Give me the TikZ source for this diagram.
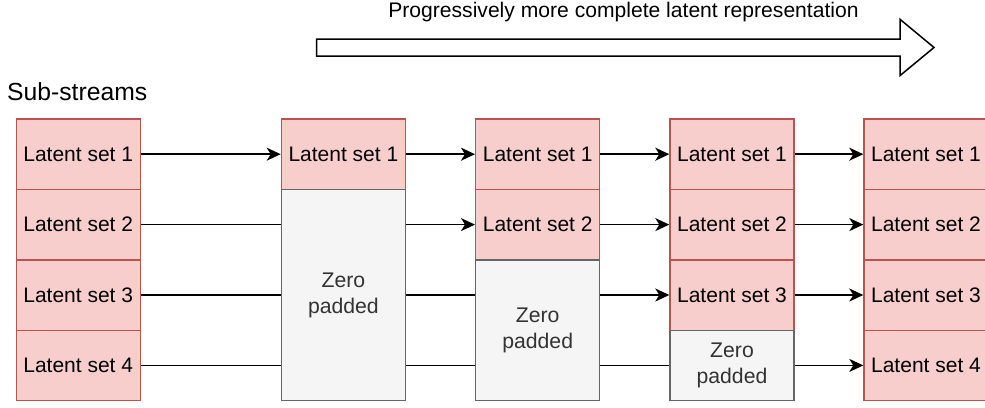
\documentclass[tikz,border=0pt]{standalone}
\usepackage{fontspec}
\setmainfont{Liberation Sans}
\usetikzlibrary{arrows.meta,backgrounds}
\definecolor{latfill}{HTML}{F8CECC}
\definecolor{latdraw}{HTML}{B85450}
\definecolor{padfill}{HTML}{F5F5F5}
\definecolor{paddraw}{HTML}{666666}
\definecolor{padtext}{HTML}{333333}
\begin{document}
\begin{tikzpicture}[x=1pt,y=-1pt,
  latent/.style={draw=latdraw, fill=latfill, line width=1.4pt,
    minimum width=124pt, minimum height=70.4pt, inner sep=0pt,
    anchor=north west, font=\fontsize{21}{25}\selectfont},
  padbox/.style={draw=paddraw, fill=padfill, line width=1.4pt,
    minimum width=124pt, inner sep=0pt, anchor=north west,
    text=padtext, align=center, font=\fontsize{21.2}{26}\selectfont},
  flow/.style={line width=1.6pt, -{Stealth[length=14pt,width=13pt,inset=4pt]}}]
\useasboundingbox (0,0) rectangle (985,407);
\clip (0,0) rectangle (985,407);

% heading and direction arrow
\node[anchor=base, inner sep=0pt, font=\fontsize{21.1}{25}\selectfont] (title) at (623.5,17.3)
  {Progressively more complete latent representation};
\draw[line width=1.5pt, line join=miter] (316.7,39) -- (900,39) -- (900,19.3) -- (934,47.5)
  -- (900,75.6) -- (900,56) -- (316.7,56) -- cycle;

\node[anchor=base west, inner sep=0pt, font=\fontsize{24.7}{29}\selectfont] (subs) at (7,100) {Sub-streams};

% column 1: all sub-streams
\node[latent] (a1) at (15.5,118.3) {Latent set 1};
\node[latent] (a2) at (15.5,188.7) {Latent set 2};
\node[latent] (a3) at (15.5,259.1) {Latent set 3};
\node[latent] (a4) at (15.5,329.5) {Latent set 4};

% column 2
\node[latent] (b1) at (280.7,118.3) {Latent set 1};
\node[padbox, minimum height=211.2pt] (bz) at (280.7,188.7) {Zero\\padded};

% column 3
\node[latent] (c1) at (475,118.3) {Latent set 1};
\node[latent] (c2) at (475,188.7) {Latent set 2};
\node[padbox, minimum height=140.8pt] (cz) at (475,259.1) {Zero\\padded};

% column 4
\node[latent] (d1) at (669.3,118.3) {Latent set 1};
\node[latent] (d2) at (669.3,188.7) {Latent set 2};
\node[latent] (d3) at (669.3,259.1) {Latent set 3};
\node[padbox, minimum height=70.4pt] (dz) at (669.3,329.5) {Zero\\padded};

% column 5
\node[latent] (e1) at (863.3,118.3) {Latent set 1};
\node[latent] (e2) at (863.3,188.7) {Latent set 2};
\node[latent] (e3) at (863.3,259.1) {Latent set 3};
\node[latent] (e4) at (863.3,329.5) {Latent set 4};

% connectors run behind the zero-padded blocks
\begin{pgfonlayer}{background}
  \draw[flow] (a1) -- (b1);
  \draw[flow] (b1) -- (c1);
  \draw[flow] (c1) -- (d1);
  \draw[flow] (d1) -- (e1);
  \draw[flow] (a2) -- (c2);
  \draw[flow] (c2) -- (d2);
  \draw[flow] (d2) -- (e2);
  \draw[flow] (a3) -- (d3);
  \draw[flow] (d3) -- (e3);
  \draw[flow] (a4) -- (e4);
\end{pgfonlayer}
\end{tikzpicture}
\end{document}
